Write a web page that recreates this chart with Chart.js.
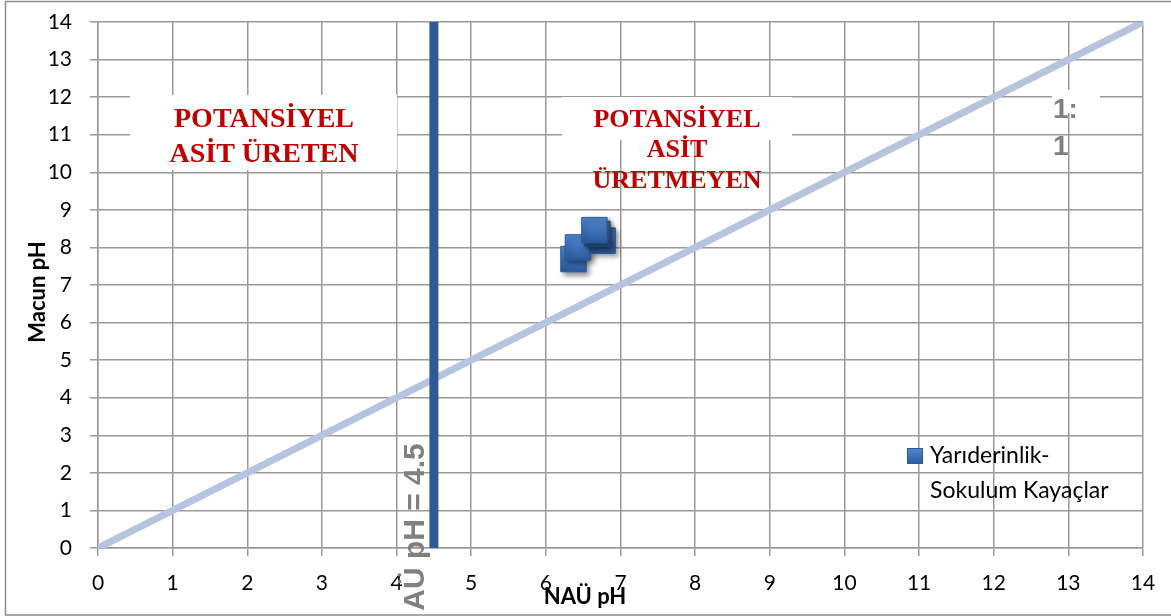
<!DOCTYPE html>
<html>
<head>
<meta charset="utf-8">
<script src="https://cdn.jsdelivr.net/npm/chart.js@4/dist/chart.umd.min.js"></script>
<style>
  html, body { margin: 0; padding: 0; background: #ffffff; }
  #wrap { width: 1171px; height: 616px; position: relative; }
</style>
</head>
<body>
<div id="wrap"><canvas id="c" width="1171" height="616"></canvas></div>
<script>
// Axis tick values
const xTickValues = [0, 1, 2, 3, 4, 5, 6, 7, 8, 9, 10, 11, 12, 13, 14];
const yTickValues = [0, 1, 2, 3, 4, 5, 6, 7, 8, 9, 10, 11, 12, 13, 14];

// Samples: NAÜ pH vs. Macun pH
const nauPH   = [6.37, 6.43, 6.76, 6.69, 6.65];
const macunPH = [7.69, 8.00, 8.18, 8.36, 8.46];

// 1:1 reference line
const equalX = [0, 14];
const equalY = [0, 14];

// AÜ pH = 4.5 threshold
const thresholdX = [4.5, 4.5];
const thresholdY = [0, 14];

const seriesName = ['Yarıderinlik-', 'Sokulum Kayaçlar'];
const zoneAcid = ['POTANSİYEL', 'ASİT ÜRETEN'];
const zoneNonAcid = ['POTANSİYEL', 'ASİT', 'ÜRETMEYEN'];
const thresholdLabel = 'AÜ pH = 4.5';
const equalLabel = ['1:', '1'];
const xTitle = 'NAÜ pH';
const yTitle = 'Macun pH';

const toXY = (xs, ys) => xs.map((x, i) => ({ x: x, y: ys[i] }));

const GRID = '#9a9a9a';
const RED = '#c00000';
const LABEL_GREY = '#808080';

function squareFill(ctx, top, bottom) {
  const g = ctx.createLinearGradient(0, top, 0, bottom);
  g.addColorStop(0, '#5089d2');
  g.addColorStop(1, '#2b5b9f');
  return g;
}

const pointFill = (c) => {
  const chart = c.chart;
  if (!chart.chartArea || c.parsed === undefined) return '#3a6db5';
  const py = chart.scales.y.getPixelForValue(c.parsed.y);
  return squareFill(chart.ctx, py - 13, py + 13);
};

const shadowPlugin = {
  id: 'markerShadow',
  beforeDatasetDraw(chart, args) {
    if (args.meta.type !== 'scatter' || args.index !== 0) return;
    const ctx = chart.ctx;
    ctx.save();
    ctx.shadowColor = 'rgba(0,0,0,0.45)';
    ctx.shadowBlur = 5;
    ctx.shadowOffsetX = 3;
    ctx.shadowOffsetY = 3;
  },
  afterDatasetDraw(chart, args) {
    if (args.meta.type !== 'scatter' || args.index !== 0) return;
    chart.ctx.restore();
  }
};

const notesPlugin = {
  id: 'notes',
  beforeDatasetsDraw(chart) {
    const ctx = chart.ctx;
    ctx.save();

    // white text boxes
    ctx.fillStyle = '#ffffff';
    ctx.fillRect(130, 95, 267, 75);
    ctx.fillRect(562, 97, 230, 43);
    ctx.fillRect(1052, 90, 48, 23);

    // zone captions
    ctx.fillStyle = RED;
    ctx.textAlign = 'center';
    ctx.textBaseline = 'alphabetic';
    ctx.font = 'bold 28px "Liberation Serif", "Times New Roman", serif';
    ctx.fillText(zoneAcid[0], 264, 127);
    ctx.fillText(zoneAcid[1], 264, 162);
    ctx.font = 'bold 26px "Liberation Serif", "Times New Roman", serif';
    ctx.fillText(zoneNonAcid[0], 677, 127);
    ctx.fillText(zoneNonAcid[1], 677, 157);
    ctx.fillText(zoneNonAcid[2], 677, 188);

    // 1:1 label
    ctx.fillStyle = LABEL_GREY;
    ctx.textAlign = 'left';
    ctx.font = 'bold 28px "Liberation Sans", Arial, sans-serif';
    ctx.fillText(equalLabel[0], 1053, 118);
    ctx.fillText(equalLabel[1], 1053, 155);

    // threshold label, rotated
    ctx.save();
    ctx.translate(424, 527);
    ctx.rotate(-Math.PI / 2);
    ctx.textAlign = 'center';
    ctx.font = 'bold 30px "Liberation Sans", Arial, sans-serif';
    ctx.fillText(thresholdLabel, 0, 0);
    ctx.restore();

    ctx.restore();
  },
  afterDraw(chart) {
    const ctx = chart.ctx;
    ctx.save();

    // axis titles
    ctx.fillStyle = '#000000';
    ctx.font = 'bold 22px Lato, sans-serif';
    ctx.textAlign = 'center';
    ctx.textBaseline = 'middle';
    ctx.fillText(xTitle, 585, 597);
    ctx.save();
    ctx.translate(38, 292);
    ctx.rotate(-Math.PI / 2);
    ctx.fillText(yTitle, 0, 0);
    ctx.restore();

    // legend
    const lx = 907, ly = 448, s = 16;
    ctx.fillStyle = squareFill(ctx, ly, ly + s);
    ctx.fillRect(lx, ly, s, s);
    ctx.strokeStyle = '#2c5a98';
    ctx.lineWidth = 1;
    ctx.strokeRect(lx + 0.5, ly + 0.5, s - 1, s - 1);
    ctx.fillStyle = '#000000';
    ctx.textAlign = 'left';
    ctx.font = '23px Lato, sans-serif';
    ctx.fillText(seriesName[0], 930, 456);
    ctx.fillText(seriesName[1], 930, 491);

    // outer frame
    ctx.strokeStyle = '#8c8c8c';
    ctx.lineWidth = 1.5;
    ctx.strokeRect(5.5, 1.5, 1180, 613.5);

    ctx.restore();
  }
};

const chart = new Chart(document.getElementById('c'), {
  type: 'scatter',
  data: {
    datasets: [
      {
        label: seriesName.join(''),
        data: toXY(nauPH, macunPH),
        order: 0,
        pointStyle: 'rect',
        pointRadius: 18,
        pointHoverRadius: 18,
        backgroundColor: pointFill,
        borderColor: '#2c5a98',
        borderWidth: 1,
        showLine: false
      },
      {
        label: '1:1',
        data: toXY(equalX, equalY),
        order: 2,
        showLine: true,
        borderColor: '#b6c4de',
        borderWidth: 7,
        borderCapStyle: 'butt',
        pointRadius: 0,
        pointHoverRadius: 0
      },
      {
        label: thresholdLabel,
        data: toXY(thresholdX, thresholdY),
        order: 1,
        showLine: true,
        borderColor: '#2f5a97',
        borderWidth: 9,
        borderCapStyle: 'butt',
        pointRadius: 0,
        pointHoverRadius: 0
      }
    ]
  },
  options: {
    responsive: false,
    animation: false,
    events: [],
    layout: { padding: { left: 0, right: 28, top: 22, bottom: 0 } },
    plugins: {
      legend: { display: false },
      tooltip: { enabled: false }
    },
    scales: {
      x: {
        type: 'linear',
        min: 0, max: 14,
        afterFit(scale) {
          scale.height = 68;
          scale.paddingLeft = 0;
          scale.paddingRight = 0;
        },
        afterBuildTicks(scale) { scale.ticks = xTickValues.map(v => ({ value: v })); },
        grid: { color: GRID, lineWidth: 1.5, tickLength: 8, drawTicks: true },
        border: { color: GRID, width: 1.5 },
        ticks: {
          padding: 15,
          color: '#000000',
          font: { family: 'Lato', size: 21 },
          maxRotation: 0,
          autoSkip: false
        }
      },
      y: {
        type: 'linear',
        min: 0, max: 14,
        afterFit(scale) {
          scale.width = 98;
          scale.paddingTop = 0;
          scale.paddingBottom = 0;
        },
        afterBuildTicks(scale) { scale.ticks = yTickValues.map(v => ({ value: v })); },
        grid: { color: GRID, lineWidth: 1.5, tickLength: 8, drawTicks: true },
        border: { color: GRID, width: 1.5 },
        ticks: {
          padding: 18,
          color: '#000000',
          font: { family: 'Lato', size: 21 },
          autoSkip: false
        }
      }
    }
  },
  plugins: [shadowPlugin, notesPlugin]
});

if (document.fonts && document.fonts.load) {
  Promise.all([
    document.fonts.load('21px Lato'),
    document.fonts.load('bold 22px Lato'),
    document.fonts.load('bold 28px "Liberation Serif"'),
    document.fonts.load('bold 28px "Liberation Sans"')
  ]).then(() => chart.update()).catch(() => {});
}
</script>
</body>
</html>
